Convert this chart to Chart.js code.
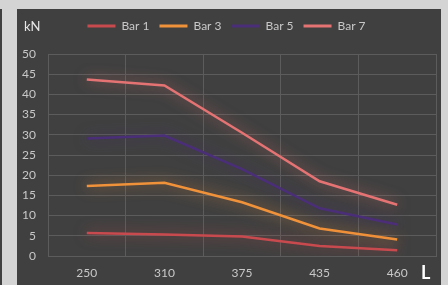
<!DOCTYPE html>
<html>
<head>
<meta charset="utf-8">
<script src="https://cdn.jsdelivr.net/npm/chart.js@4"></script>
<style>
  html, body { margin: 0; padding: 0; }
  body { width: 448px; height: 285px; background: #d4d4d4; position: relative; overflow: hidden; }
  #strip { position: absolute; left: 0; top: 9px; width: 2px; height: 276px; background: #404040; }
  #panel { position: absolute; left: 17px; top: 9px; width: 424px; height: 276px; background: #404040; }
</style>
</head>
<body>
<div id="strip"></div>
<div id="panel"><canvas id="chart" width="424" height="276"></canvas></div>
<script>
// Chart data
const categories = ['250', '310', '375', '435', '460'];
const bar1 = [5.7, 5.3, 4.8, 2.5, 1.4];
const bar3 = [17.3, 18.1, 13.3, 6.8, 4.1];
const bar5 = [29.1, 29.8, 21.5, 11.8, 7.8];
const bar7 = [43.7, 42.2, 30.5, 18.5, 12.7];
const seriesNames = ['Bar 1', 'Bar 3', 'Bar 5', 'Bar 7'];
const colors = ['#c94a4e', '#f0923a', '#4a2e78', '#e57373'];

const fontFamily = "Lato, 'Open Sans', sans-serif";

// Soft glow round each line, like the Excel effect
const glowPlugin = {
  id: 'glow',
  beforeDatasetDraw(chart, args) {
    const ctx = chart.ctx;
    ctx.save();
    ctx.shadowColor = colors[args.index] + 'bb';
    ctx.shadowBlur = 14;
  },
  afterDatasetDraw(chart) {
    chart.ctx.restore();
  }
};

// Extra room under the legend
const legendGapPlugin = {
  id: 'legendGap',
  beforeInit(chart) {
    const fit = chart.legend.fit;
    chart.legend.fit = function () {
      fit.bind(chart.legend)();
      this.height += 12;
    };
  }
};

// Axis unit labels
const unitsPlugin = {
  id: 'units',
  afterDraw(chart) {
    const ctx = chart.ctx;
    ctx.save();
    ctx.fillStyle = '#e6e6e6';
    ctx.font = '13px ' + fontFamily;
    ctx.textBaseline = 'middle';
    ctx.fillText('kN', 7, 18);
    ctx.fillStyle = '#ffffff';
    ctx.font = 'bold 18px ' + fontFamily;
    ctx.fillText('L', 404, 264);
    ctx.restore();
  }
};

const datasets = [bar1, bar3, bar5, bar7].map((d, i) => ({
  label: seriesNames[i],
  data: d,
  borderColor: colors[i],
  backgroundColor: colors[i],
  borderWidth: 2.5,
  pointRadius: 0,
  tension: 0,
  fill: false
}));

new Chart(document.getElementById('chart'), {
  type: 'line',
  data: { labels: categories, datasets: datasets },
  plugins: [legendGapPlugin, glowPlugin, unitsPlugin],
  options: {
    responsive: false,
    animation: false,
    layout: { padding: { top: 1, right: 5, left: 0, bottom: 0 } },
    plugins: {
      tooltip: { enabled: false },
      legend: {
        position: 'top',
        labels: {
          boxWidth: 28,
          boxHeight: 3,
          padding: 10,
          color: '#c8c8c8',
          font: { family: fontFamily, size: 12 },
          generateLabels(chart) {
            return Chart.defaults.plugins.legend.labels.generateLabels(chart).map(l => {
              l.lineWidth = 0;
              return l;
            });
          }
        }
      }
    },
    scales: {
      x: {
        offset: true,
        grid: { offset: true, color: '#5c5c5c', drawTicks: false },
        border: { color: '#5c5c5c' },
        ticks: { color: '#c8c8c8', padding: 10, font: { family: fontFamily, size: 12 } },
        afterFit(scale) { scale.height = 29; }
      },
      y: {
        min: 0,
        max: 50,
        ticks: { stepSize: 5, color: '#c8c8c8', padding: 12, font: { family: fontFamily, size: 12 } },
        grid: { color: '#5c5c5c', drawTicks: false },
        border: { color: '#5c5c5c' },
        afterFit(scale) { scale.width = 31; }
      }
    }
  }
});
</script>
</body>
</html>
